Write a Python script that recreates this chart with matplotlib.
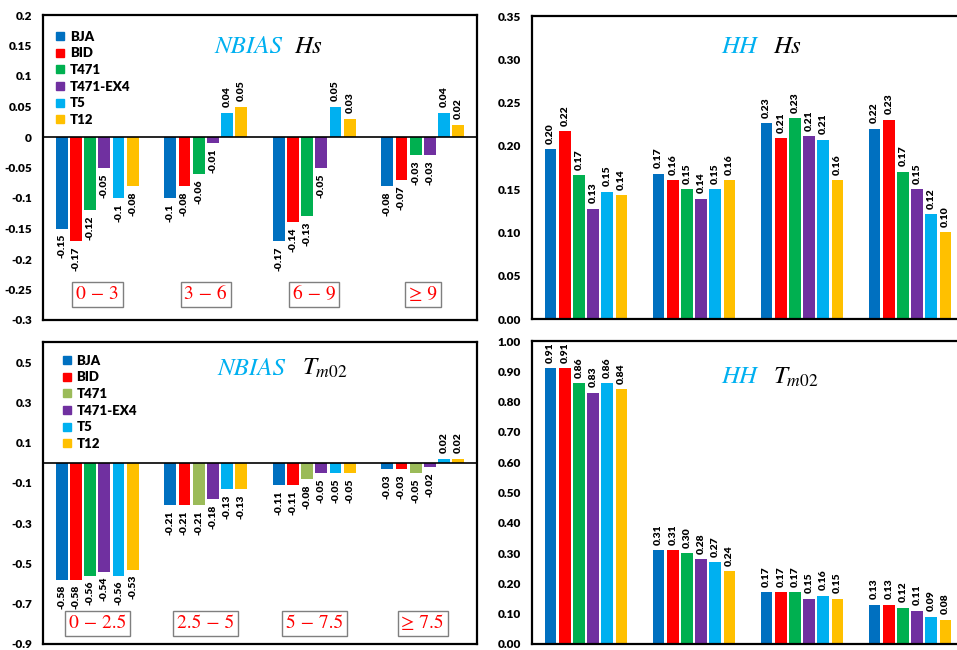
import numpy as np
import matplotlib.pyplot as plt
from matplotlib.lines import Line2D

plt.rcParams['font.family'] = 'Lato'
plt.rcParams['mathtext.fontset'] = 'stix'

models = ['BJA', 'BID', 'T471', 'T471-EX4', 'T5', 'T12']
colors = ['#0070C0', '#FF0000', '#00B050', '#7030A0', '#00B0F0', '#FFC000']
light_green = '#9BBB59'

hs_bins = ['0 − 3', '3 − 6', '6 − 9', '≥ 9']
tm_bins = ['0 − 2.5', '2.5 − 5', '5 − 7.5', '≥ 7.5']

# one row per model, one column per bin
nbias_hs = [
    [-0.15, -0.10, -0.17, -0.08],
    [-0.17, -0.08, -0.14, -0.07],
    [-0.12, -0.06, -0.13, -0.03],
    [-0.05, -0.01, -0.05, -0.03],
    [-0.10, 0.04, 0.05, 0.04],
    [-0.08, 0.05, 0.03, 0.02],
]
hh_hs = [
    [0.196, 0.168, 0.226, 0.220],
    [0.217, 0.160, 0.209, 0.230],
    [0.166, 0.150, 0.232, 0.170],
    [0.127, 0.139, 0.211, 0.150],
    [0.147, 0.150, 0.207, 0.121],
    [0.143, 0.160, 0.160, 0.100],
]
nbias_tm = [
    [-0.58, -0.21, -0.11, -0.03],
    [-0.58, -0.21, -0.11, -0.03],
    [-0.56, -0.21, -0.08, -0.05],
    [-0.54, -0.18, -0.05, -0.02],
    [-0.56, -0.13, -0.05, 0.02],
    [-0.53, -0.13, -0.05, 0.02],
]
hh_tm = [
    [0.91, 0.31, 0.17, 0.13],
    [0.91, 0.31, 0.17, 0.13],
    [0.86, 0.30, 0.17, 0.12],
    [0.83, 0.28, 0.15, 0.11],
    [0.86, 0.27, 0.16, 0.09],
    [0.84, 0.24, 0.15, 0.08],
]

nbias_hs_ticks = [-0.3, -0.25, -0.2, -0.15, -0.1, -0.05, 0, 0.05, 0.1, 0.15, 0.2]
hh_hs_ticks = [0, 0.05, 0.1, 0.15, 0.2, 0.25, 0.3, 0.35]
nbias_tm_ticks = [-0.9, -0.7, -0.5, -0.3, -0.1, 0.1, 0.3, 0.5]
hh_tm_ticks = [0, 0.1, 0.2, 0.3, 0.4, 0.5, 0.6, 0.7, 0.8, 0.9, 1.0]

SLOT = 0.131
BAR_W = 0.108


def draw_bars(ax, values, label_fmt, bar_colors):
    x = np.arange(len(values[0]))
    for i, row in enumerate(values):
        xs = x + (i - 2.5) * SLOT
        ax.bar(xs, row, width=BAR_W, color=bar_colors[i], zorder=2)
        for xi, v in zip(xs, row):
            off = 4 if v >= 0 else -4
            ax.annotate(label_fmt(v), (xi, v), xytext=(0, off), textcoords='offset points',
                        rotation=90, ha='center', va='bottom' if v >= 0 else 'top',
                        fontsize=7.5, fontweight='heavy')


def style_axes(ax, ylim, ticks, tick_fmt):
    ax.set_xlim(-0.5, 3.5)
    ax.set_ylim(*ylim)
    ax.set_xticks([])
    ax.set_yticks(ticks)
    ax.set_yticklabels([tick_fmt(t) for t in ticks], fontweight='heavy')
    ax.tick_params(axis='y', length=0, pad=8, labelsize=8.5)
    for s in ax.spines.values():
        s.set_linewidth(1.6)


def title(ax, left, right, x0, x1, y):
    ax.text(x0, y, left, transform=ax.transAxes, ha='right', va='baseline',
            color='#00B0F0', fontsize=18, fontfamily='STIXGeneral', style='italic')
    ax.text(x1, y, right, transform=ax.transAxes, ha='left', va='baseline',
            color='black', fontsize=18, fontfamily='STIXGeneral', style='italic')


def bin_boxes(ax, bins, y):
    for i, b in enumerate(bins):
        ax.text(i, y, b, ha='center', va='center', color='red', fontsize=14,
                fontfamily='STIXGeneral',
                bbox=dict(boxstyle='square,pad=0.2', fc='white', ec='#7F7F7F', lw=1))


def legend(ax, legend_colors, anchor):
    handles = [Line2D([], [], marker='s', linestyle='', markersize=6, color=c) for c in legend_colors]
    ax.legend(handles, models, loc='upper left', bbox_to_anchor=anchor, frameon=False,
              borderpad=0, borderaxespad=0, handlelength=0.6, handletextpad=0.4,
              labelspacing=0.35, prop={'weight': 'heavy', 'size': 9.5})


fig = plt.figure(figsize=(9.57, 6.5), dpi=100)
W, H = 957, 650

ax1 = fig.add_axes([43 / W, 1 - 320 / H, 434 / W, 305 / H])
ax2 = fig.add_axes([532 / W, 1 - 319 / H, 432 / W, 303 / H])
ax3 = fig.add_axes([43 / W, 1 - 644 / H, 434 / W, 302 / H])
ax4 = fig.add_axes([532 / W, 1 - 644 / H, 432 / W, 303 / H])

fmt_g = lambda v: f'{v:g}'
fmt_2 = lambda v: f'{v:.2f}'

# NBIAS of Hs
draw_bars(ax1, nbias_hs, fmt_g, colors)
ax1.axhline(0, color='black', lw=1.2, zorder=3)
style_axes(ax1, (-0.3, 0.2), nbias_hs_ticks, fmt_g)
title(ax1, 'NBIAS', 'Hs', 0.551, 0.578, 0.876)
bin_boxes(ax1, hs_bins, -0.258)
legend(ax1, colors, (0.031, 0.948))

# HH of Hs
draw_bars(ax2, hh_hs, fmt_2, colors)
style_axes(ax2, (0, 0.35), hh_hs_ticks, fmt_2)
title(ax2, 'HH', 'Hs', 0.521, 0.558, 0.879)

# NBIAS of Tm02 (T471 drawn lighter in the upper bins)
tm_colors = list(colors)
tm_colors[2] = [colors[2], light_green, light_green, light_green]
x = np.arange(4)
for i, row in enumerate(nbias_tm):
    xs = x + (i - 2.5) * SLOT
    ax3.bar(xs, row, width=BAR_W, color=tm_colors[i], zorder=2)
    for xi, v in zip(xs, row):
        off = 4 if v >= 0 else -4
        ax3.annotate(fmt_2(v), (xi, v), xytext=(0, off), textcoords='offset points',
                     rotation=90, ha='center', va='bottom' if v >= 0 else 'top',
                     fontsize=7.5, fontweight='heavy')
ax3.axhline(0, color='black', lw=1.2, zorder=3)
style_axes(ax3, (-0.9, 0.6), nbias_tm_ticks, fmt_g)
title(ax3, 'NBIAS', r'$T_{m02}$', 0.558, 0.597, 0.891)
bin_boxes(ax3, tm_bins, -0.8)
legend(ax3, [colors[0], colors[1], light_green, colors[3], colors[4], colors[5]], (0.047, 0.958))

# HH of Tm02
draw_bars(ax4, hh_tm, fmt_2, colors)
style_axes(ax4, (0, 1.0), hh_tm_ticks, fmt_2)
title(ax4, 'HH', r'$T_{m02}$', 0.521, 0.558, 0.860)

fig.savefig('out.png', dpi=100)
